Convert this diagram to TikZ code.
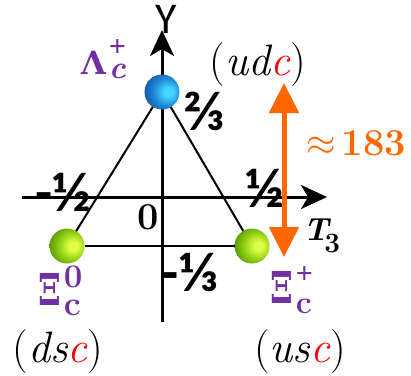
\documentclass[tikz,border=0pt]{standalone}
\usepackage{fix-cm}
\usepackage{graphicx}
\usepackage{fontspec}
\usetikzlibrary{arrows.meta}
\newfontfamily\carl{Carlito}
\newfontfamily\libser{Liberation Serif}
\newfontfamily\dvser{DejaVu Serif}
\newcommand\fsz[1]{\fontsize{#1}{#1}\selectfont}
\definecolor{purp}{RGB}{112,48,160}
\definecolor{orng}{RGB}{255,102,0}
\definecolor{bhl}{RGB}{70,215,255}
\definecolor{bmid}{RGB}{30,135,215}
\definecolor{bdark}{RGB}{15,75,150}
\definecolor{bedge}{RGB}{8,40,95}
\definecolor{ghl}{RGB}{225,255,70}
\definecolor{gmid}{RGB}{140,205,20}
\definecolor{gdark}{RGB}{75,135,0}
\definecolor{gedge}{RGB}{40,80,0}
\pgfdeclareradialshading{bluesph}{\pgfpoint{10bp}{0bp}}{%
 color(0bp)=(bhl); color(6bp)=(bhl); color(20bp)=(bmid); color(36bp)=(bdark); color(56bp)=(bedge); color(80bp)=(bedge)}
\pgfdeclareradialshading{greensph}{\pgfpoint{10bp}{0bp}}{%
 color(0bp)=(ghl); color(6bp)=(ghl); color(20bp)=(gmid); color(36bp)=(gdark); color(56bp)=(gedge); color(80bp)=(gedge)}
\begin{document}
\begin{tikzpicture}[x=1pt,y=-1pt, inner sep=0pt, outer sep=0pt,
  axis/.style={line width=3pt, -{Stealth[length=26pt,width=24pt,inset=7pt]}},
  tri/.style={line width=2pt},
  sphere/.style={circle, minimum size=35pt, inner sep=0pt, shade},
  frac/.style={font=\carl\bfseries\fsz{56}},
  quark/.style={font=\fsz{44}\itshape},
  particle/.style={anchor=base west, text=purp},
  gap/.style={line width=5pt, draw=orng, {Triangle[length=30pt,width=29pt]}-{Triangle[length=30pt,width=29pt]}}]
\useasboundingbox (0,0) rectangle (411,375);
% axes
\coordinate (ybot) at (162,322);
\coordinate (ytop) at (162,30);
\coordinate (xl) at (22,197);
\coordinate (xr) at (327,197);
\draw[axis] (xl) -- (xr);
\draw[axis] (ybot) -- (ytop);
% spheres
\node[sphere, shading=bluesph] (lam) at (162,92) {};
\node[sphere, shading=greensph] (xi0) at (67,246) {};
\node[sphere, shading=greensph] (xip) at (252,246) {};
\draw[tri] (lam) -- (xi0);
\draw[tri] (lam) -- (xip);
\draw[tri] (xi0) -- (xip);
% axis labels and values
\node[font=\carl\fsz{44}] (ylab) at (166,19) {Y};
\node[anchor=base west] (t3) at (303,240) {\fsz{32}\bfseries\itshape T\kern-4pt\raisebox{-12pt}{\fsz{28}\upshape 3}};
\node[font=\fsz{38}\bfseries] (zero) at (148.5,217.5) {0};
\node[frac] (mhalf) at (63,192) {-½};
\node[frac] (phalf) at (265,188) {½};
\node[frac] (twothird) at (204,111) {⅔};
\node[frac] (mthird) at (190,272) {-⅓};
% particle names
\node[particle] (lamlab) at (81,74) {{\dvser\bfseries\fsz{32}Λ}\kern3pt\rlap{\raisebox{18pt}{\libser\bfseries\fsz{30}+}}\raisebox{-4pt}{\fsz{32}\bfseries\itshape c}};
\node[particle] (xi0lab) at (38,305) {\scalebox{0.74}[1]{\dvser\bfseries\fsz{44}Ξ}\kern3pt\rlap{\raisebox{18pt}{\bfseries\fsz{33}0}}\raisebox{-10pt}{\bfseries\fsz{34}c}};
\node[particle] (xiplab) at (270,303) {\scalebox{0.74}[1]{\dvser\bfseries\fsz{44}Ξ}\kern3pt\rlap{\raisebox{20pt}{\libser\bfseries\fsz{30}+}}\raisebox{-10pt}{\bfseries\fsz{32}c}};
% quark content
\node[quark] (udc) at (258,65) {\textup{(}ud\textcolor{red}{c}\textup{)}};
\node[quark] (dsc) at (58,352) {\textup{(}ds\textcolor{red}{c}\textup{)}};
\node[quark] (usc) at (300,352) {\textup{(}us\textcolor{red}{c}\textup{)}};
% mass gap
\coordinate (gtop) at (284,83);
\coordinate (gbot) at (284,257);
\draw[gap] (gtop) -- (gbot);
\node[anchor=base west, text=orng] (gaplab) at (306,155) {\fsz{38}$\approx$\,\bfseries 183};
\end{tikzpicture}
\end{document}
